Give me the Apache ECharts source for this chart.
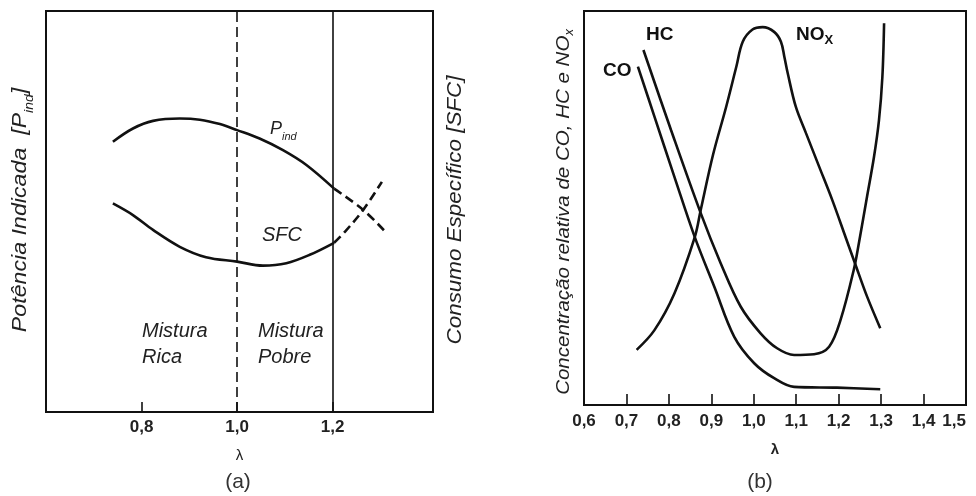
<!DOCTYPE html>
<html><head><meta charset="utf-8">
<script src="https://cdn.jsdelivr.net/npm/echarts@6/dist/echarts.min.js"></script>
<style>html,body{margin:0;padding:0;background:#fff}#c{width:976px;height:496px}</style>
</head><body><div id="c"></div>
<script>
// ---------- panel (a) ----------
const aTicks = [0.8, 1.0, 1.2];
const aBounds = [1.0, 1.2];            // stoichiometric line (dashed) and lean limit (solid)
const pindX = [0.740, 0.782, 0.824, 0.880, 0.922, 0.964, 1.000, 1.047, 1.096, 1.145, 1.203];
const pindY = [67.4, 70.7, 72.6, 73.2, 72.9, 71.8, 70.3, 68.2, 65.3, 61.6, 55.7];
const pindDashX = [1.203, 1.264, 1.309];
const pindDashY = [55.7, 50.4, 45.1];
const sfcX = [0.740, 0.782, 0.824, 0.880, 0.935, 1.000, 1.054, 1.103, 1.152, 1.203];
const sfcY = [52.0, 49.1, 45.4, 41.2, 38.6, 37.5, 36.5, 37.1, 39.2, 42.2];
const sfcDashX = [1.203, 1.226, 1.264, 1.303];
const sfcDashY = [42.2, 45.0, 50.4, 57.4];

// ---------- panel (b) ----------
const bTicks = [0.6, 0.7, 0.8, 0.9, 1.0, 1.1, 1.2, 1.3, 1.4, 1.5];
const coX = [0.727, 0.766, 0.813, 0.861, 0.907, 0.954, 1.001, 1.048, 1.095, 1.196, 1.298];
const coY = [85.9, 73.2, 57.9, 42.6, 30.0, 17.3, 10.6, 6.8, 4.6, 4.4, 4.0];
const hcX = [0.740, 0.805, 0.875, 0.922, 0.969, 1.016, 1.055, 1.095, 1.142, 1.1775, 1.205, 1.236, 1.248, 1.267, 1.283, 1.295, 1.303, 1.307];
const hcY = [90.1, 69.8, 48.7, 36.0, 25.0, 18.2, 14.4, 12.7, 12.9, 14.8, 21.8, 34.5, 41.3, 53.0, 62.8, 72.3, 83.3, 96.9];
const noxX = [0.724, 0.766, 0.813, 0.861, 0.875, 0.904, 0.935, 0.959, 0.974, 0.997, 1.021, 1.048, 1.064, 1.072, 1.080, 1.099, 1.123, 1.154, 1.185, 1.217, 1.239, 1.267, 1.298];
const noxY = [14.0, 19.0, 28.3, 42.6, 49.5, 63.5, 75.7, 85.9, 92.2, 95.3, 95.9, 94.7, 92.2, 88.4, 84.2, 75.7, 69.0, 60.5, 52.0, 42.4, 35.8, 27.5, 19.5];

const zip = (xs, ys) => xs.map((x, i) => [x, ys[i]]);
const fmt = v => Number(v).toFixed(1).replace('.', ',');
const FF = '"Liberation Sans", Arial, Helvetica, sans-serif';
const INK = '#111';

const curve = (name, xs, ys, xi, dashed) => ({
  name, type: 'line', xAxisIndex: xi, yAxisIndex: xi,
  data: zip(xs, ys), showSymbol: false, smooth: 0.35, silent: true,
  lineStyle: { color: INK, width: 2.6, type: dashed ? [9, 5] : 'solid' }
});

const chart = echarts.init(document.getElementById('c'), null, { renderer: 'canvas' });
chart.setOption({
  animation: false,
  backgroundColor: '#fff',
  grid: [
    { left: 46, top: 11, width: 387, height: 401, show: true, borderColor: INK, borderWidth: 2, backgroundColor: 'transparent' },
    { left: 584, top: 11, width: 382, height: 394, show: true, borderColor: INK, borderWidth: 2, backgroundColor: 'transparent' }
  ],
  xAxis: [
    {
      gridIndex: 0, type: 'value', min: 0.6, max: 1.41, interval: 0.2,
      axisLine: { show: false }, splitLine: { show: false },
      axisTick: { inside: true, length: 10, customValues: aTicks, lineStyle: { color: INK, width: 1.6 } },
      axisLabel: { customValues: aTicks, formatter: fmt, fontSize: 17, fontWeight: 'bold', color: '#222', margin: 7, fontFamily: FF },
      name: 'λ', nameLocation: 'middle', nameGap: 36,
      nameTextStyle: { fontSize: 15, color: '#222', fontFamily: FF }
    },
    {
      gridIndex: 1, type: 'value', min: 0.6, max: 1.5, interval: 0.1,
      axisLine: { show: false }, splitLine: { show: false },
      axisTick: { inside: true, length: 11, customValues: bTicks, lineStyle: { color: INK, width: 1.6 } },
      axisLabel: { customValues: bTicks, formatter: fmt, fontSize: 17, fontWeight: 'bold', color: '#222', margin: 8, fontFamily: FF, alignMaxLabel: 'right' },
      name: 'λ', nameLocation: 'middle', nameGap: 37,
      nameTextStyle: { fontSize: 15, fontWeight: 'bold', color: '#222', fontFamily: FF }
    }
  ],
  yAxis: [
    { gridIndex: 0, type: 'value', min: 0, max: 100, show: false },
    { gridIndex: 1, type: 'value', min: 0, max: 100, show: false }
  ],
  series: [
    curve('Pind', pindX, pindY, 0, false),
    curve('Pind (extrapolado)', pindDashX, pindDashY, 0, true),
    curve('SFC', sfcX, sfcY, 0, false),
    curve('SFC (extrapolado)', sfcDashX, sfcDashY, 0, true),
    {
      name: 'limites', type: 'line', xAxisIndex: 0, yAxisIndex: 0, data: [], silent: true,
      markLine: {
        symbol: 'none', silent: true, label: { show: false },
        data: [
          { xAxis: aBounds[0], lineStyle: { color: INK, width: 1.6, type: [10, 5] } },
          { xAxis: aBounds[1], lineStyle: { color: INK, width: 1.6, type: 'solid' } }
        ]
      }
    },
    curve('CO', coX, coY, 1, false),
    curve('HC', hcX, hcY, 1, false),
    curve('NOx', noxX, noxY, 1, false)
  ],
  graphic: [
    // panel (a)
    { type: 'text', x: 23, y: 210, rotation: Math.PI / 2, scaleX: 1.16, style: {
        text: '{a|Potência Indicada  [P}{s|ind}{a|]}', align: 'center', verticalAlign: 'middle',
        rich: { a: { fontSize: 20, fontStyle: 'italic', fontFamily: FF, fill: '#222', lineHeight: 20, verticalAlign: 'top' },
                s: { fontSize: 12, fontStyle: 'italic', fontFamily: FF, fill: '#222', lineHeight: 25, verticalAlign: 'bottom' } } } },
    { type: 'text', x: 455, y: 210, rotation: Math.PI / 2, scaleX: 1.12, style: {
        text: 'Consumo Específico [SFC]', align: 'center', verticalAlign: 'middle',
        fontSize: 20, fontStyle: 'italic', fontFamily: FF, fill: '#222' } },
    { type: 'text', x: 270, y: 131, style: {
        text: '{p|P}{s|ind}', align: 'left', verticalAlign: 'middle',
        rich: { p: { fontSize: 18, fontStyle: 'italic', fontFamily: FF, fill: '#222', lineHeight: 18, verticalAlign: 'top' },
                s: { fontSize: 11, fontStyle: 'italic', fontFamily: FF, fill: '#222', lineHeight: 22, verticalAlign: 'bottom' } } } },
    { type: 'text', x: 262, y: 235, style: {
        text: 'SFC', align: 'left', verticalAlign: 'middle', fontSize: 20, fontStyle: 'italic', fontFamily: FF, fill: '#222' } },
    { type: 'text', x: 142, y: 344, style: {
        text: 'Mistura\nRica', align: 'left', verticalAlign: 'middle', fontSize: 20, lineHeight: 26, fontStyle: 'italic', fontFamily: FF, fill: '#222' } },
    { type: 'text', x: 258, y: 344, style: {
        text: 'Mistura\nPobre', align: 'left', verticalAlign: 'middle', fontSize: 20, lineHeight: 26, fontStyle: 'italic', fontFamily: FF, fill: '#222' } },
    { type: 'text', x: 238, y: 482, style: {
        text: '(a)', align: 'center', verticalAlign: 'middle', fontSize: 21, fontFamily: FF, fill: '#333' } },
    // panel (b)
    { type: 'text', x: 565, y: 212, rotation: Math.PI / 2, scaleX: 1.08, style: {
        text: '{a|Concentração relativa de CO, HC e NO}{s|x}', align: 'center', verticalAlign: 'middle',
        rich: { a: { fontSize: 19, fontStyle: 'italic', fontFamily: FF, fill: '#222', lineHeight: 19, verticalAlign: 'top' },
                s: { fontSize: 12, fontStyle: 'italic', fontFamily: FF, fill: '#222', lineHeight: 22, verticalAlign: 'bottom' } } } },
    { type: 'text', x: 646, y: 35, style: {
        text: 'HC', align: 'left', verticalAlign: 'middle', fontSize: 19, fontWeight: 'bold', fontFamily: FF, fill: INK } },
    { type: 'text', x: 603, y: 71, style: {
        text: 'CO', align: 'left', verticalAlign: 'middle', fontSize: 19, fontWeight: 'bold', fontFamily: FF, fill: INK } },
    { type: 'text', x: 796, y: 36, style: {
        text: '{a|NO}{s|X}', align: 'left', verticalAlign: 'middle',
        rich: { a: { fontSize: 19, fontWeight: 'bold', fontFamily: FF, fill: INK, lineHeight: 19, verticalAlign: 'top' },
                s: { fontSize: 13, fontWeight: 'bold', fontFamily: FF, fill: INK, lineHeight: 22, verticalAlign: 'bottom' } } } },
    { type: 'text', x: 760, y: 482, style: {
        text: '(b)', align: 'center', verticalAlign: 'middle', fontSize: 21, fontFamily: FF, fill: '#333' } }
  ]
});
</script>
</body></html>
